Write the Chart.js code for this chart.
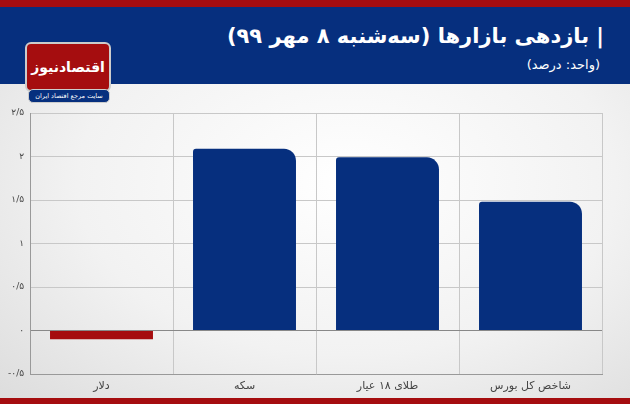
<!DOCTYPE html>
<html><head><meta charset="utf-8">
<script src="https://cdn.jsdelivr.net/npm/chart.js@4"></script>
<style>
html,body{margin:0;padding:0;width:630px;height:404px;overflow:hidden;font-family:"DejaVu Sans",sans-serif}
#bg{position:absolute;left:0;top:0;width:630px;height:404px;background:radial-gradient(ellipse at 55% 45%,#ffffff 0%,#f2f2f2 55%,#dcdcdc 100%)}
#top{position:absolute;left:0;top:0;width:630px;height:7px;background:#a50d0f}
#band{position:absolute;left:0;top:7px;width:630px;height:77px;background:#062f7e}
#bot{position:absolute;left:0;top:398px;width:630px;height:6px;background:#a50d0f}
#title{position:absolute;right:26px;top:24px;color:#fff;font-size:21px;font-weight:bold;direction:rtl;white-space:nowrap}
#sub{position:absolute;right:30px;top:57px;color:#fff;font-size:13px;direction:rtl;white-space:nowrap}
#logo{position:absolute;left:25px;top:42px;width:82px;height:46px;background:#a50d0f;border:2px solid #ccc;border-radius:6px;color:#fff;font-weight:bold;font-size:14px;text-align:center;line-height:46px;direction:rtl;overflow:hidden}
#pill{position:absolute;left:28px;top:89px;width:80px;height:12px;background:#062f7e;border:1px solid #ccc;border-radius:5px;color:#fff;font-size:6.5px;text-align:center;line-height:12px;direction:rtl;white-space:nowrap}
canvas{position:absolute;left:0;top:0}
</style></head><body>
<div id="bg"></div><div id="top"></div><div id="band"></div><div id="bot"></div>
<div id="title">| بازدهی بازارها (سه‌شنبه ۸ مهر ۹۹)</div>
<div id="sub">(واحد: درصد)</div>
<div id="logo">اقتصادنیوز</div>
<div id="pill">سایت مرجع اقتصاد ایران</div>
<canvas id="c" width="630" height="404"></canvas>
<script>
const categories=["دلار","سکه","طلای ۱۸ عیار","شاخص کل بورس"];
const values=[-0.1,2.09,1.99,1.48];
const colors=["#a50d0f","#062f7e","#062f7e","#062f7e"];
const yTicks=[-0.5,0,0.5,1,1.5,2,2.5];
function fa(v){let s=String(Math.abs(v)).replace('.','/').replace(/\d/g,d=>'۰۱۲۳۴۵۶۷۸۹'[d]);return (v<0?'-':'')+s;}
new Chart(document.getElementById('c'),{type:'bar',
data:{labels:categories,datasets:[{data:values,backgroundColor:colors,barPercentage:0.72,categoryPercentage:1,
borderRadius:ctx=>ctx.dataIndex===0?{topLeft:0,topRight:3,bottomLeft:0,bottomRight:0}:{topLeft:3,topRight:12,bottomLeft:0,bottomRight:0},borderSkipped:'start'}]},
options:{responsive:false,animation:false,layout:{padding:{top:113,right:28,left:0,bottom:0}},
plugins:{legend:{display:false},tooltip:{enabled:false}},
scales:{
x:{afterFit:s=>{s.height=30},grid:{color:'#c8c8c8',offset:true,drawTicks:false},border:{color:'#999'},ticks:{color:'#444',font:{family:'DejaVu Sans',size:11},padding:6}},
y:{min:-0.5,max:2.5,afterFit:s=>{s.width=30},afterBuildTicks:s=>{s.ticks=yTicks.map(v=>({value:v}))},
grid:{color:c=>c.tick&&c.tick.value===0?'#888':'#c8c8c8',drawTicks:false},border:{color:'#999'},
ticks:{color:'#444',font:{family:'DejaVu Sans',size:9},padding:6,callback:v=>fa(v)}}}}});
</script></body></html>
